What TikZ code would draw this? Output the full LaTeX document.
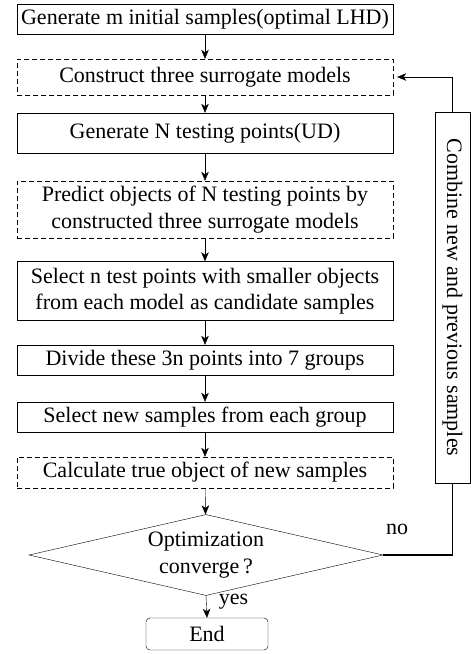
\documentclass[tikz,border=0pt]{standalone}
\usepackage{fontspec}
\setmainfont{Liberation Serif}
\usetikzlibrary{shapes,arrows,arrows.meta}
\usetikzlibrary{positioning}
\tikzset{auto,>={Stealth[length=9pt,width=7.5pt,inset=2.5pt]}, node distance=1cm, font=\fontsize{22}{26.5}\selectfont, line width=1pt}
\tikzstyle{block} = [draw, fill=white, rectangle, minimum width=376pt, inner sep=2pt, text centered, align=center]
\tikzstyle{dblock} = [block, dash pattern=on 5pt off 3pt]
\tikzstyle{decision} = [draw, diamond, aspect=4.37, minimum width=354pt, minimum height=81pt, inner sep=0pt, align=center]
\tikzstyle{terminal} = [draw, rectangle, rounded corners=4pt, minimum width=122pt, minimum height=32pt, inner sep=0pt]

\begin{document}
\begin{tikzpicture}[x=1pt,y=1pt]
		\useasboundingbox (0,0) rectangle (471,-654);
		\node [block, minimum height=30pt] (initial) at (205,-19) {Generate m initial samples(optimal LHD)};
		\node [dblock, minimum height=36pt] (construct) at (205,-77) {Construct three surrogate models};
		\node [block, minimum height=40pt] (testing) at (205,-133) {Generate N testing points(UD)};
		\node [dblock, minimum height=57pt] (predict) at (205,-209.5) {Predict objects of N testing points by\\constructed three surrogate models};
		\node [block, minimum height=59pt] (candidates) at (205,-291) {Select n test points with smaller objects\\from each model as candidate samples};
		\node [block, minimum height=30pt] (divide) at (205,-360) {Divide these 3n points into 7 groups};
		\node [block, minimum height=30pt] (new-samples) at (205,-417) {Select new samples from each group};
		\node [dblock, minimum height=31pt] (calculate) at (205,-472.5) {Calculate true object of new samples};
		\node [decision] (converge) at (206,-555) {Optimization\\converge\,?};
		\node [terminal] (end) at (207,-634) {End};
		\node [block, rotate=-90, minimum width=371pt, minimum height=35pt] (combine) at (452.5,-297.5) {Combine new and previous samples};

		\draw [->] (initial) -- (construct);
		\draw [->] (construct) -- (testing);
		\draw [->] (testing) -- (predict);
		\draw [->] (predict) -- (candidates);
		\draw [->] (candidates) -- (divide);
		\draw [->] (divide) -- (new-samples);
		\draw [->] (new-samples) -- (calculate);
		\draw [->] (calculate) -- (converge);
		\draw [->] (converge.south) -- node [pos=0.25, right, xshift=9pt] {yes} (end.north);
		\draw [line width=1.4pt] (combine) |- node [pos=0.9, above=16pt] {no} (converge);
		\draw [->, shorten >=4pt] (combine) |- (construct);
	\end{tikzpicture}
\end{document}
